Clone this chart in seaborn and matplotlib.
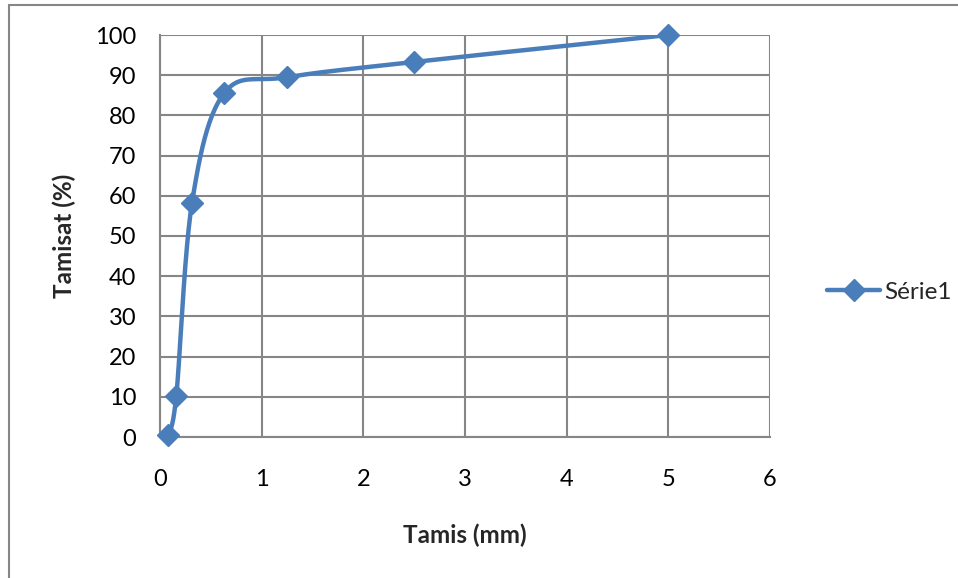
import numpy as np
import pandas as pd
import matplotlib
matplotlib.use("Agg")
import matplotlib.pyplot as plt
import seaborn as sns
from matplotlib.lines import Line2D

# Data
tamis_mm = [0.08, 0.16, 0.315, 0.63, 1.25, 2.5, 5.0]
tamisat_pct = [0.5, 10.2, 58.3, 85.5, 89.5, 93.3, 100.0]
series_name = "Série1"
x_ticks = [0, 1, 2, 3, 4, 5, 6]
y_ticks = [0, 10, 20, 30, 40, 50, 60, 70, 80, 90, 100]

sns.set_theme(style="white")
plt.rcParams['font.family'] = ['Lato', 'DejaVu Sans']

W, H = 958, 578
fig = plt.figure(figsize=(W / 100, H / 100), dpi=100)
L, R, T, B = 160, 770, 35, 437
ax = fig.add_axes([L / W, 1 - B / H, (R - L) / W, (B - T) / H])

xmin, xmax, ymin, ymax = 0, 6, 0, 100
ax.set_xlim(xmin, xmax)
ax.set_ylim(ymin, ymax)

# Excel-style smoothed curve (Bezier with 1/6 tension, in screen space)
pw, ph = R - L, B - T
px = np.array(tamis_mm) / (xmax - xmin) * pw
py = np.array(tamisat_pct) / (ymax - ymin) * ph
P = np.column_stack([px, py])
n = len(P)
curve = []
t = np.linspace(0, 1, 40)
for i in range(n - 1):
    p0 = P[i - 1] if i > 0 else P[i]
    p1 = P[i]
    p2 = P[i + 1]
    p3 = P[i + 2] if i + 2 < n else P[i + 1]
    c1 = p1 + (p2 - p0) / 6
    c2 = p2 - (p3 - p1) / 6
    seg = ((1 - t)[:, None] ** 3 * p1 + 3 * ((1 - t) ** 2 * t)[:, None] * c1
           + 3 * ((1 - t) * t ** 2)[:, None] * c2 + (t ** 3)[:, None] * p2)
    curve.append(seg if i == 0 else seg[1:])
curve = np.vstack(curve)
cdf = pd.DataFrame({"x": curve[:, 0] / pw * (xmax - xmin),
                    "y": curve[:, 1] / ph * (ymax - ymin)})

color = "#4A7EBB"
sns.lineplot(data=cdf, x="x", y="y", sort=False, ax=ax, color=color,
             linewidth=3.2, zorder=3, estimator=None)
df = pd.DataFrame({"x": tamis_mm, "y": tamisat_pct})
ax.plot(df["x"], df["y"], linestyle="none", marker="D", markersize=11.5,
        color=color, markeredgecolor=color, zorder=4, clip_on=False)

grid_c = "#868686"
ax.set_xticks(x_ticks)
ax.set_yticks(y_ticks)
ax.grid(True, color=grid_c, linewidth=1.5)
for s in ["top", "right"]:
    ax.spines[s].set_visible(False)
for s in ["left", "bottom"]:
    ax.spines[s].set_color(grid_c)
    ax.spines[s].set_linewidth(1.5)
ax.tick_params(axis="both", which="major", length=6, width=1.5, color=grid_c,
               labelsize=17, labelcolor="black", direction="out")
ax.tick_params(axis="x", pad=17)
ax.tick_params(axis="y", pad=11)
ax.set_axisbelow(True)

ax.set_xlabel("Tamis (mm)", fontsize=17.5, fontweight="bold", labelpad=24)
ax.set_ylabel("Tamisat (%)", fontsize=17.5, fontweight="bold", labelpad=14)

handle = Line2D([0], [0], color=color, linewidth=3.2, marker="D",
                markersize=11.5, markeredgecolor=color)
fig.legend([handle], [series_name], loc="center left",
           bbox_to_anchor=(805 / W, 1 - 292 / H), frameon=False,
           fontsize=17.5, handlelength=2.2, handletextpad=0.15)

# chart border (top and left visible)
fig.add_artist(Line2D([9 / W, 1], [1 - 5 / H, 1 - 5 / H], color=grid_c,
                      linewidth=1.5, transform=fig.transFigure))
fig.add_artist(Line2D([9 / W, 9 / W], [0, 1 - 5 / H], color=grid_c,
                      linewidth=1.5, transform=fig.transFigure))

fig.savefig("out.png", dpi=100)
